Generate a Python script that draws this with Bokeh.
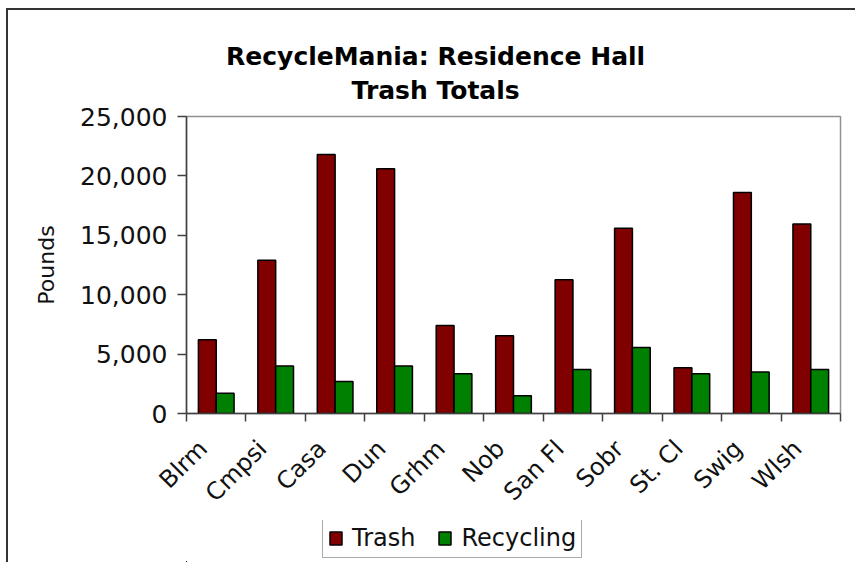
import math
from bokeh.plotting import figure
from bokeh.layouts import column
from bokeh.models import (Range1d, FixedTicker, NumeralTickFormatter, Label,
                          Legend, LegendItem)
from bokeh.embed import file_html
from bokeh.resources import INLINE

# ---- data ----
halls = ["Blrm", "Cmpsi", "Casa", "Dun", "Grhm", "Nob", "San Fl", "Sobr",
         "St. Cl", "Swig", "Wlsh"]
trash = [6200, 12900, 21800, 20600, 7400, 6550, 11250, 15600, 3850, 18600, 15950]
recycling = [1700, 4000, 2700, 4000, 3350, 1500, 3700, 5550, 3350, 3500, 3700]
y_ticks = [0, 5000, 10000, 15000, 20000, 25000]
series_names = ["Trash", "Recycling"]
series_colors = ["#800000", "#008000"]
title_lines = ["RecycleMania: Residence Hall", "Trash Totals"]
y_label = "Pounds"

n = len(halls)
BAR_W = 0.3
LABEL_SHIFT = 0.22   # Excel-style placement of rotated category labels
centers = [i + 0.5 for i in range(n)]
x_trash = [c - BAR_W / 2 for c in centers]
x_recy = [c + BAR_W / 2 for c in centers]
label_pos = [round(c - LABEL_SHIFT, 3) for c in centers]

FONT = "DejaVu Sans"
W = 847
xr = Range1d(0, n)


def strip(h, x_range, y_range):
    f = figure(width=W, height=h, output_backend="svg", toolbar_location=None,
               x_range=x_range, y_range=y_range,
               x_axis_type=None, y_axis_type=None, min_border=0)
    f.grid.visible = False
    f.outline_line_color = None
    f.background_fill_color = "white"
    f.border_fill_color = "white"
    return f


# ---- title strip ----
TH = 94
pt = strip(TH, xr, Range1d(0, TH))
for txt, yy in zip(title_lines, [48, 14]):
    pt.add_layout(Label(x=4.19, y=yy, text=txt, text_align="center",
                        text_baseline="alphabetic", text_font=FONT,
                        text_font_style="bold", text_font_size="25px",
                        text_color="#000000"))

# ---- main chart ----
p = figure(width=W, height=416, output_backend="svg", toolbar_location=None,
           x_range=xr, y_range=Range1d(0, y_ticks[-1]),
           min_border_left=178, min_border_right=15, min_border_top=12,
           min_border_bottom=106)
p.grid.visible = False
p.background_fill_color = "white"
p.border_fill_color = "white"
p.outline_line_color = "#909090"
p.outline_line_width = 1.5

p.vbar(x=x_trash, top=trash, width=BAR_W, bottom=0,
       fill_color=series_colors[0], line_color="black", line_width=1.5)
p.vbar(x=x_recy, top=recycling, width=BAR_W, bottom=0,
       fill_color=series_colors[1], line_color="black", line_width=1.5)

ya = p.yaxis[0]
ya.ticker = FixedTicker(ticks=y_ticks, minor_ticks=[])
ya.formatter = NumeralTickFormatter(format="0,0")
ya.major_label_text_font = FONT
ya.major_label_text_font_size = "25px"
ya.major_label_text_color = "#111111"
ya.major_tick_out = 9
ya.major_tick_in = 0
ya.major_tick_line_color = "#404040"
ya.major_tick_line_width = 1.5
ya.major_label_standoff = 10
ya.axis_line_color = "#404040"
ya.axis_line_width = 1.5
ya.axis_label = y_label
ya.axis_label_text_font = FONT
ya.axis_label_text_font_size = "22px"
ya.axis_label_text_font_style = "normal"
ya.axis_label_text_color = "#111111"
ya.axis_label_standoff = 18

xa = p.xaxis[0]
xa.ticker = FixedTicker(ticks=label_pos, minor_ticks=list(range(n + 1)))
xa.major_label_overrides = {c: h for c, h in zip(label_pos, halls)}
xa.major_label_orientation = math.pi / 4
xa.major_label_text_font = FONT
xa.major_label_text_font_size = "24px"
xa.major_label_text_color = "#111111"
xa.major_tick_line_color = None
xa.major_tick_out = 8
xa.major_tick_in = 0
xa.minor_tick_out = 8
xa.minor_tick_in = 0
xa.minor_tick_line_color = "#404040"
xa.minor_tick_line_width = 1.5
xa.major_label_standoff = 23
xa.axis_line_color = "#404040"
xa.axis_line_width = 1.5

# ---- legend strip (same series, both ranges far away so only the legend shows) ----
pl = strip(42, Range1d(1e6, 1e6 + 1), Range1d(1e6, 1e6 + 1))
g1 = pl.vbar(x=x_trash, top=trash, width=BAR_W, bottom=0,
             fill_color=series_colors[0], line_color="black", line_width=1.5)
g2 = pl.vbar(x=x_recy, top=recycling, width=BAR_W, bottom=0,
             fill_color=series_colors[1], line_color="black", line_width=1.5)
legend = Legend(items=[LegendItem(label=series_names[0], renderers=[g1]),
                       LegendItem(label=series_names[1], renderers=[g2])],
                orientation="horizontal", location=(136, 4),
                label_text_font=FONT, label_text_font_size="24px",
                label_text_color="#111111",
                glyph_width=15, glyph_height=16, label_standoff=9,
                spacing=22, padding=5, margin=0,
                border_line_color="#555555", border_line_width=1,
                background_fill_color="white", background_fill_alpha=1)
pl.add_layout(legend)

layout = column(pt, p, pl, spacing=0)
layout.styles = {"border-left": "2px solid #333333", "border-top": "2px solid #333333",
                 "margin-left": "6px", "margin-top": "8px"}

open("out.html", "w").write(file_html(layout, INLINE))
